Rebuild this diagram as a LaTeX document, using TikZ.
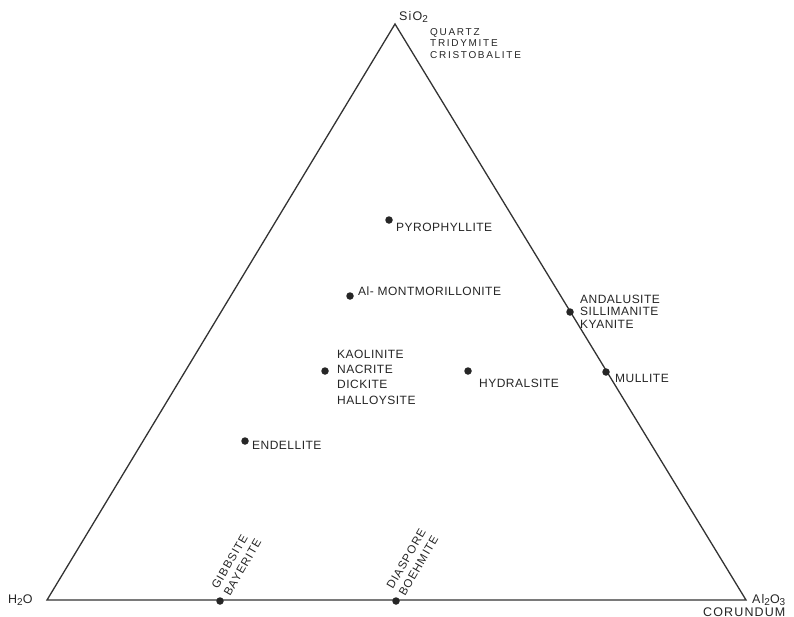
\documentclass[tikz,border=0pt]{standalone}
\usepackage{fontspec}
\newfontfamily\lab[LetterSpace=4]{Liberation Sans}
\newfontfamily\labw[LetterSpace=17]{Liberation Sans}
\newfontfamily\labr[LetterSpace=9]{Liberation Sans}
\newcommand{\lowsub}[1]{\raisebox{-0.35ex}{\fontsize{10}{10}\selectfont #1}}
\begin{document}
\begin{tikzpicture}[x=1pt,y=-1pt,
  dot/.style={circle,fill=black!85,inner sep=0pt,minimum size=7.5pt},
  lbl/.style={anchor=base west,inner sep=0pt,font={\lab\fontsize{12}{13}\selectfont},text=black!85},
  lbls/.style={anchor=base west,inner sep=0pt,font={\labw\fontsize{10}{11}\selectfont},text=black!85},
  lblv/.style={anchor=base west,inner sep=0pt,font={\labr\fontsize{12.5}{13}\selectfont},text=black!85},
  lblr/.style={anchor=base west,inner sep=0pt,align=left,rotate=60,
    font={\labr\fontsize{11.5}{14}\selectfont},text=black!85},
  edge/.style={line width=1.3pt,black!80}]
\useasboundingbox (0,0) rectangle (794,616);
\fill[white] (0,0) rectangle (794,616);
% vertices
\coordinate (S) at (395,24);
\coordinate (W) at (47,600);
\coordinate (E) at (746,600);
\draw[edge,line join=miter] (S) -- (W) -- (E) -- cycle;
% dots
\node[dot] (pyro) at (389,220) {};
\node[dot] (mont) at (350,296) {};
\node[dot] (kaol) at (325,371) {};
\node[dot] (hydr) at (468,371) {};
\node[dot] (ende) at (245,441) {};
\node[dot] (anda) at (570,312) {};
\node[dot] (mull) at (606,372) {};
\node[dot] (gibb) at (220,601) {};
\node[dot] (dias) at (396,601) {};
% vertex labels
\node[lblv] (sio) at (399,20) {SiO\lowsub{2}};
\node[lbls] (q1) at (430,35) {QUARTZ};
\node[lbls] (q2) at (430,46.5) {TRIDYMITE};
\node[lbls] (q3) at (430,58) {CRISTOBALITE};
\node[lblv] (h2o) at (8,603) {H\lowsub{2}O};
\node[lblv] (alo) at (752,603) {Al\lowsub{2}O\lowsub{3}};
\node[lblv] (cor) at (703,616) {CORUNDUM};
% mineral labels
\node[lbl] (tpyro) at (396,231) {PYROPHYLLITE};
\node[lbl] (tmont) at (358,295) {Al- MONTMORILLONITE};
\node[lbl] (tk1) at (337,358) {KAOLINITE};
\node[lbl] (tk2) at (337,373) {NACRITE};
\node[lbl] (tk3) at (337,388) {DICKITE};
\node[lbl] (tk4) at (337,404) {HALLOYSITE};
\node[lbl] (thydr) at (479,387) {HYDRALSITE};
\node[lbl] (tende) at (252,449) {ENDELLITE};
\node[lbl] (ta1) at (580,303) {ANDALUSITE};
\node[lbl] (ta2) at (580,315.5) {SILLIMANITE};
\node[lbl] (ta3) at (580,328) {KYANITE};
\node[lbl] (tmull) at (615,382) {MULLITE};
\node[lblr] (tg) at (230,597) {GIBBSITE\\BAYERITE};
\node[lblr] (td) at (405,597) {DIASPORE\\BOEHMITE};
\end{tikzpicture}
\end{document}
